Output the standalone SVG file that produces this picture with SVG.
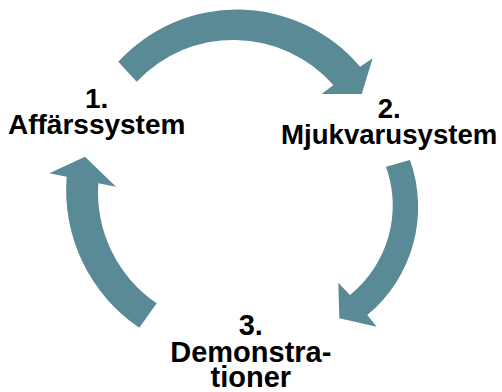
<svg xmlns="http://www.w3.org/2000/svg" width="502" height="392" viewBox="0 0 502 392">
  <style>
    .arrow { fill: #598a96; stroke: none; }
    .label { font-family: "Liberation Sans", Arial, sans-serif; font-weight: bold; fill: #000; text-anchor: middle; }
  </style>
  <rect width="502" height="392" fill="#ffffff"/>

  <!-- curved cycle arrows -->
  <g id="connectors">
    <path id="arrow-1-2" class="arrow" d="M 118.3 61.7 A 161 161 0 0 1 360 66.7 L 372.7 58.3 L 361.7 94 L 321.7 94 L 333.3 85 A 133 133 0 0 0 136.7 81.7 Z"/>
    <path id="arrow-2-3" class="arrow" d="M 410 160 A 140 140 0 0 1 367.3 315 L 376.7 326.7 L 339.3 318.3 L 338.3 282.7 L 350 295 A 115 115 0 0 0 386 166.7 Z"/>
    <path id="arrow-3-1" class="arrow" d="M 139.3 327.7 A 166 166 0 0 1 66.7 176.7 L 49.3 173.3 L 85 156.7 L 116 186.7 L 98.3 183.3 A 134 134 0 0 0 156.7 303.3 Z"/>
  </g>

  <g id="node-1">
    <text class="label" font-size="28" x="96.7" y="108.3">1.</text>
    <text class="label" font-size="28" x="96.7" y="134.3">Affärssystem</text>
  </g>

  <g id="node-2">
    <text class="label" font-size="27.6" x="389.2" y="117.5">2.</text>
    <text class="label" font-size="27.6" x="389.2" y="143.5">Mjukvarusystem</text>
  </g>

  <g id="node-3">
    <text class="label" font-size="29" x="250.8" y="335">3.</text>
    <text class="label" font-size="29" x="250.8" y="361.7">Demonstra-</text>
    <text class="label" font-size="29" x="250.8" y="387">tioner</text>
  </g>
</svg>
